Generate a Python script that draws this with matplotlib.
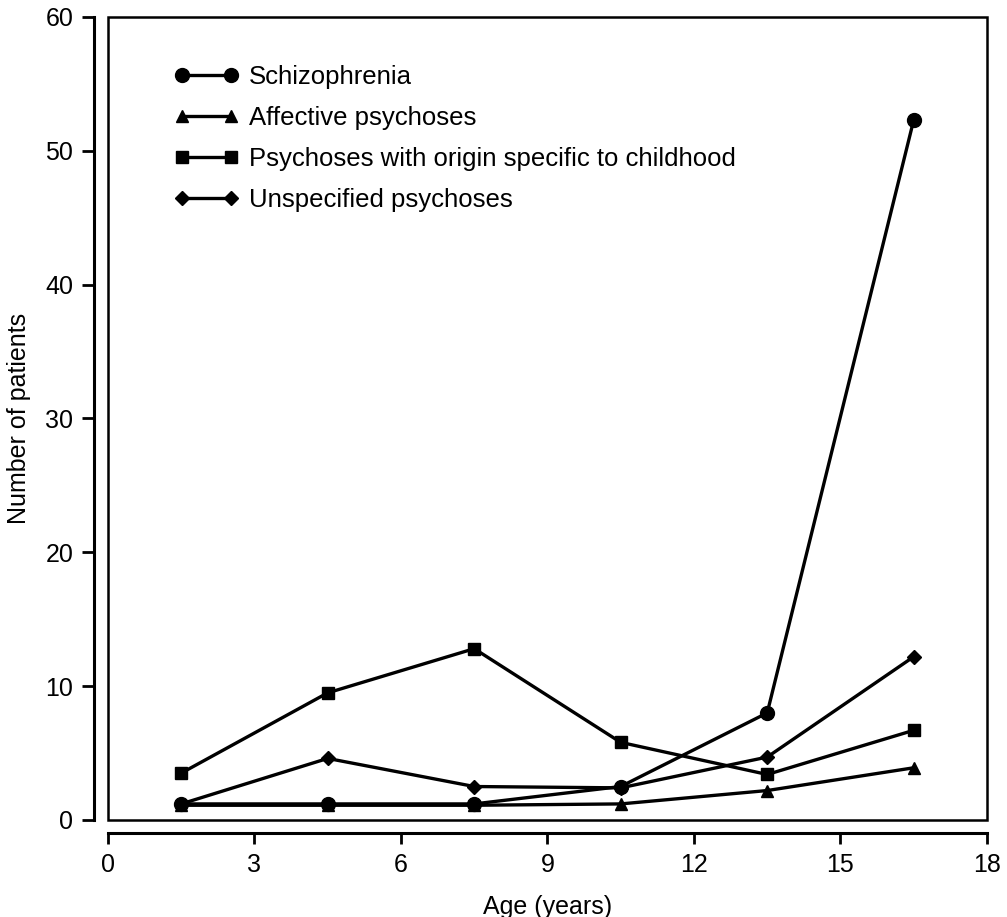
import numpy as np
import matplotlib
matplotlib.use("Agg")
import matplotlib.pyplot as plt
from matplotlib.patches import Rectangle

plt.rcParams['font.family'] = ['Liberation Sans', 'DejaVu Sans']

# age groups (mid points)
ages = [1.5, 4.5, 7.5, 10.5, 13.5, 16.5]

schizophrenia = [1.2, 1.2, 1.2, 2.5, 8.0, 52.3]
affective = [1.1, 1.1, 1.1, 1.2, 2.2, 3.9]
childhood = [3.5, 9.5, 12.8, 5.8, 3.4, 6.7]
unspecified = [1.2, 4.6, 2.5, 2.4, 4.7, 12.2]

labels = ['Schizophrenia', 'Affective psychoses',
          'Psychoses with origin specific to childhood', 'Unspecified psychoses']
xticks = [0, 3, 6, 9, 12, 15, 18]
yticks = [0, 10, 20, 30, 40, 50, 60]

fig = plt.figure(figsize=(10.07, 9.17), dpi=100)
ax = fig.add_axes([0.1072, 0.1058, 0.8729, 0.8757])

kw = dict(color='black', lw=2.4, clip_on=False)
ax.plot(ages, schizophrenia, marker='o', ms=10, label=labels[0], **kw)
ax.plot(ages, affective, marker='^', ms=9, label=labels[1], **kw)
ax.plot(ages, childhood, marker='s', ms=8, label=labels[2], **kw)
ax.plot(ages, unspecified, marker='D', ms=7, label=labels[3], **kw)

ax.set_xlim(0, 18)
ax.set_ylim(0, 60)
ax.set_xticks(xticks)
ax.set_yticks(yticks)

# offset axes spines, plus a closed box around the plotting area
for s in ['top', 'right']:
    ax.spines[s].set_visible(False)
ax.spines['left'].set_position(('outward', 10))
ax.spines['bottom'].set_position(('outward', 9.5))
ax.spines['left'].set_linewidth(2.2)
ax.spines['bottom'].set_linewidth(2.2)
ax.add_patch(Rectangle((0, 0), 1, 1, transform=ax.transAxes, fill=False,
                       lw=1.8, ec='black', clip_on=False))

ax.tick_params(axis='y', length=9, width=2, labelsize=18, pad=6)
ax.tick_params(axis='x', length=8, width=2, labelsize=18, pad=6)

ax.set_xlabel('Age (years)', fontsize=18, labelpad=13)
ax.set_ylabel('Number of patients', fontsize=18, labelpad=10)

ax.legend(loc='upper left', bbox_to_anchor=(0.076, 0.94), frameon=False,
          fontsize=18.5, numpoints=2, handlelength=2.5, handletextpad=0.4,
          labelspacing=0.66, borderpad=0, borderaxespad=0)

fig.savefig('out.png', dpi=100)
